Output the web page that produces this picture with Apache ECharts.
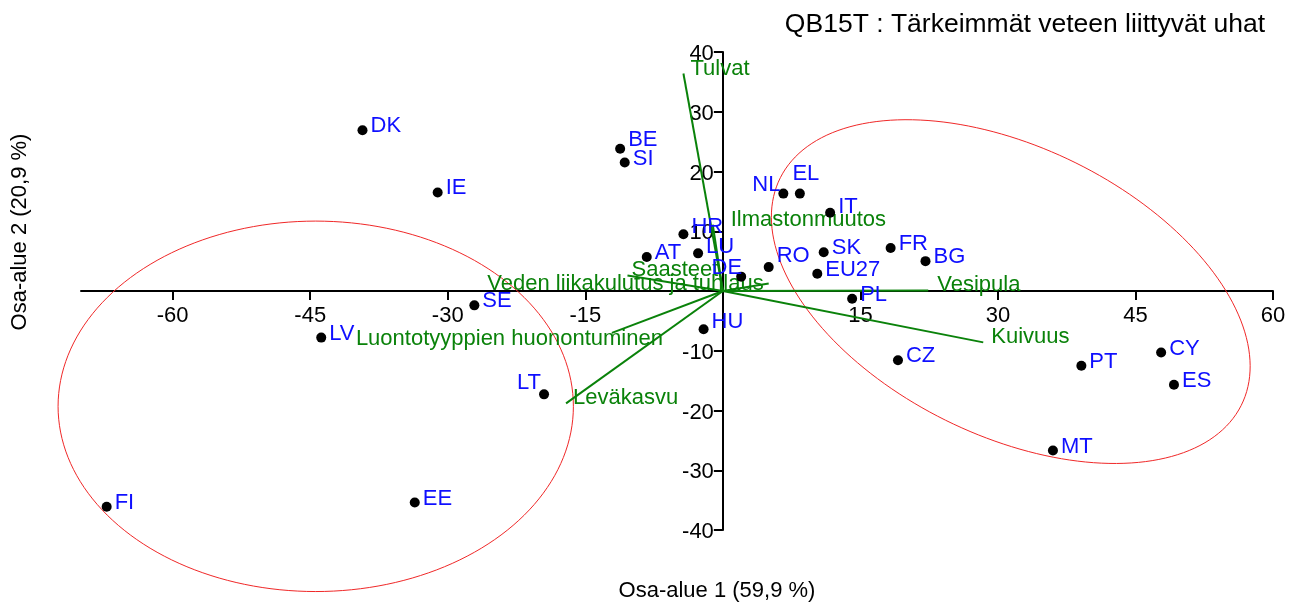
<!DOCTYPE html>
<html>
<head>
<meta charset="utf-8">
<script src="https://cdn.jsdelivr.net/npm/echarts@6/dist/echarts.min.js"></script>
<style>
  html, body { margin: 0; padding: 0; background: #fff; }
  #chart { width: 1298px; height: 603px; }
</style>
</head>
<body>
<div id="chart"></div>
<script>
// Countries: coordinates on the first two dimensions
const countries = ['DK','IE','BE','SI','NL','EL','IT','HR','LU','AT','DE','RO','SK','EU27','FR','BG','PL','CZ','SE','HU','LV','LT','EE','FI','PT','CY','ES','MT'];
const dim1 = [-39.3,-31.1,-11.2,-10.7,6.6,8.4,11.7,-4.3,-2.7,-8.3,2.0,5.0,11.0,10.3,18.3,22.1,14.1,19.1,-27.1,-2.1,-43.8,-19.5,-33.6,-67.2,39.1,47.8,49.2,36.0];
const dim2 = [26.9,16.5,23.8,21.5,16.3,16.3,13.1,9.5,6.3,5.7,2.4,4.0,6.5,2.9,7.2,5.0,-1.3,-11.6,-2.4,-6.4,-7.8,-17.3,-35.4,-36.1,-12.5,-10.3,-15.7,-26.7];

// Threat categories (column arrows)
const threats = ['Tulvat','Ilmastonmuutos','Saasteet','Veden liikakulutus ja tuhlaus','Vesipula','Kuivuus','Luontotyyppien huonontuminen','Leväkasvu'];
const threatDim1 = [-4.3,-1.1,-10.4,5.0,22.4,28.4,-12.1,-17.1];
const threatDim2 = [36.4,11.1,2.6,1.25,0.1,-8.6,-7.0,-18.8];

// Group ellipses: centre, semi-axes and rotation (degrees), in axis units
const ellipseCx = [-44.4, 31.4];
const ellipseCy = [-19.3, -0.1];
const ellipseRx = [28.1, 33.0];
const ellipseRy = [31.0, 20.5];
const ellipseAngle = [0, -51.3];

// Axis ticks
const xTicks = [-60,-45,-30,-15,15,30,45,60];
const yTicks = [-40,-30,-20,-10,10,20,30,40];

const FONT = '"Liberation Sans", Arial, sans-serif';
const BLUE = '#0f0fff';
const GREEN = '#0a820a';
const FS = 22;

// label placement tweaks (pixels) for crowded points
const pointLabelStyle = {
  NL: { position: 'left', distance: 0, offset: [2, -9] },
  EL: { position: 'top', distance: 3, offset: [6, -1] },
  LT: { position: 'left', distance: 0, offset: [2, -11] },
  DE: { position: 'left', distance: 0, offset: [6, -9] },
  HR: { offset: [0, -7] }, LU: { offset: [0, -6] }, RO: { offset: [0, -11] },
  BE: { offset: [0, -9] }, HU: { offset: [0, -7] }, IT: { offset: [0, -6] }
};
const arrowLabelStyle = {
  'Tulvat': { dx: 7, dy: -5, align: 'left' },
  'Ilmastonmuutos': { dx: 18, dy: -5, align: 'left' },
  'Saasteet': { dx: 4, dy: -6, align: 'left' },
  'Veden liikakulutus ja tuhlaus': { dx: -5, dy: 0, align: 'right' },
  'Vesipula': { dx: 9, dy: -5, align: 'left' },
  'Kuivuus': { dx: 8, dy: -5, align: 'left' },
  'Luontotyyppien huonontuminen': { dx: 51, dy: 6, align: 'right' },
  'Leväkasvu': { dx: 7, dy: -5, align: 'left' }
};

const pointData = countries.map((c, i) => {
  const s = pointLabelStyle[c] || {};
  return {
    name: c,
    value: [dim1[i], dim2[i]],
    label: {
      position: s.position || 'right',
      distance: s.distance !== undefined ? s.distance : 3,
      offset: s.offset || [0, -4]
    }
  };
});

const arrowData = threats.map((t, i) => ({ name: t, value: [threatDim1[i], threatDim2[i]] }));
const ellipseData = ellipseCx.map((cx, i) => [cx, ellipseCy[i], ellipseRx[i], ellipseRy[i], ellipseAngle[i]]);

const chart = echarts.init(document.getElementById('chart'), null, { renderer: 'canvas' });

chart.setOption({
  backgroundColor: '#fff',
  animation: false,
  title: {
    text: 'QB15T : Tärkeimmät veteen liittyvät uhat',
    right: 28, top: 6,
    textStyle: { fontFamily: FONT, fontSize: 26.5, fontWeight: 'normal', color: '#000' }
  },
  grid: { left: 81, top: 52, width: 1192, height: 478, containLabel: false },
  xAxis: {
    type: 'value', min: -70, max: 60,
    axisLine: { onZero: true, lineStyle: { color: '#000', width: 2 } },
    axisTick: { show: true, length: 9, customValues: xTicks, lineStyle: { color: '#000', width: 2 } },
    axisLabel: { show: false },
    splitLine: { show: false }
  },
  yAxis: {
    type: 'value', min: -40, max: 40, interval: 10,
    axisLine: { onZero: true, lineStyle: { color: '#000', width: 2 } },
    axisTick: { show: true, length: 9, customValues: yTicks, lineStyle: { color: '#000', width: 2 } },
    axisLabel: { show: false },
    splitLine: { show: false }
  },
  graphic: [
    {
      type: 'text', x: 717, y: 591,
      style: { text: 'Osa-alue 1 (59,9 %)', font: FS + 'px ' + FONT, fill: '#000', align: 'center', verticalAlign: 'middle' }
    },
    {
      type: 'text', x: 20, y: 232, rotation: Math.PI / 2,
      style: { text: 'Osa-alue 2 (20,9 %)', font: FS + 'px ' + FONT, fill: '#000', align: 'center', verticalAlign: 'middle' }
    }
  ],
  series: [
    {
      // tick labels along the horizontal axis line (y = 0)
      type: 'custom',
      name: 'xTickLabels',
      coordinateSystem: 'cartesian2d',
      clip: false, silent: true,
      encode: { x: 0, y: 1 },
      data: xTicks.map(v => [v, 0]),
      renderItem: function (params, api) {
        const p = api.coord([api.value(0), 0]);
        return { type: 'text', x: p[0], y: p[1] + 25,
          style: { text: String(api.value(0)), font: FS + 'px ' + FONT, fill: '#000', align: 'center', verticalAlign: 'middle' } };
      }
    },
    {
      // tick labels along the vertical axis line (x = 0)
      type: 'custom',
      name: 'yTickLabels',
      coordinateSystem: 'cartesian2d',
      clip: false, silent: true,
      encode: { x: 0, y: 1 },
      data: yTicks.map(v => [0, v]),
      renderItem: function (params, api) {
        const p = api.coord([0, api.value(1)]);
        return { type: 'text', x: p[0] - 9, y: p[1] + 2,
          style: { text: String(api.value(1)), font: FS + 'px ' + FONT, fill: '#000', align: 'right', verticalAlign: 'middle' } };
      }
    },
    {
      type: 'custom',
      name: 'ellipses',
      coordinateSystem: 'cartesian2d',
      clip: false,
      silent: true,
      encode: { x: 0, y: 1 },
      data: ellipseData,
      z: 1,
      renderItem: function (params, api) {
        const cx = api.value(0), cy = api.value(1);
        const rx = api.value(2), ry = api.value(3);
        const a = api.value(4) * Math.PI / 180;
        const pts = [];
        for (let k = 0; k <= 180; k++) {
          const t = k / 180 * Math.PI * 2;
          const ex = rx * Math.cos(t), ey = ry * Math.sin(t);
          pts.push(api.coord([cx + ex * Math.cos(a) - ey * Math.sin(a), cy + ex * Math.sin(a) + ey * Math.cos(a)]));
        }
        return { type: 'polygon', shape: { points: pts }, style: { fill: null, stroke: '#f02828', lineWidth: 1 } };
      }
    },
    {
      type: 'custom',
      name: 'arrows',
      coordinateSystem: 'cartesian2d',
      clip: false,
      silent: true,
      encode: { x: 0, y: 1 },
      data: arrowData,
      z: 3,
      renderItem: function (params, api) {
        const o = api.coord([0, 0]);
        const e = api.coord([api.value(0), api.value(1)]);
        const name = threats[params.dataIndex];
        const s = arrowLabelStyle[name];
        return {
          type: 'group',
          children: [
            { type: 'line', shape: { x1: o[0], y1: o[1], x2: e[0], y2: e[1] }, style: { stroke: GREEN, lineWidth: 2 } },
            { type: 'text', x: e[0] + s.dx, y: e[1] + s.dy,
              style: { text: name, font: FS + 'px ' + FONT, fill: GREEN, align: s.align, verticalAlign: 'middle' } }
          ]
        };
      }
    },
    {
      type: 'scatter',
      name: 'countries',
      symbol: 'circle',
      symbolSize: 10,
      itemStyle: { color: '#000', opacity: 1 },
      z: 4,
      label: {
        show: true,
        formatter: '{b}',
        color: BLUE,
        opacity: 1,
        fontFamily: FONT,
        fontSize: FS
      },
      emphasis: { disabled: true },
      data: pointData
    }
  ]
});
</script>
</body>
</html>
